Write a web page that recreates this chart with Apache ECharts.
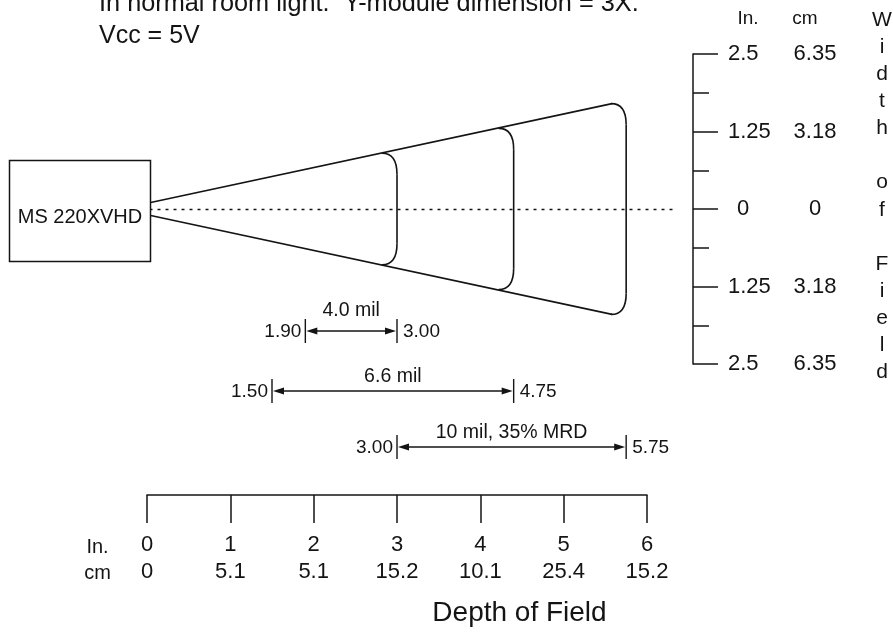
<!DOCTYPE html>
<html>
<head>
<meta charset="utf-8">
<script src="https://cdn.jsdelivr.net/npm/echarts@6/dist/echarts.min.js"></script>
<style>
html,body{margin:0;padding:0;background:#fff;}
#chart{width:893px;height:633px;}
</style>
</head>
<body>
<div id="chart"></div>
<script>
// ---- data ----
const depthTicksIn = ['0', '1', '2', '3', '4', '5', '6'];
const depthTicksCm = ['0', '5.1', '5.1', '15.2', '10.1', '25.4', '15.2'];
const widthTicksIn = ['2.5', '1.25', '0', '1.25', '2.5'];
const widthTicksCm = ['6.35', '3.18', '0', '3.18', '6.35'];
const coneApex = [0.03, 0.10];
const coneMouth = [5.58, 1.70];
const fieldArcDepth = [3.00, 4.40, 5.75];
const fieldArcHalf = [0.90, 1.30, 1.70];
const dofNames = ['4.0 mil', '6.6 mil', '10 mil, 35% MRD'];
const dofStart = [1.90, 1.50, 3.00];
const dofEnd = [3.00, 4.40, 5.75];
const dofStartLabel = ['1.90', '1.50', '3.00'];
const dofEndLabel = ['3.00', '4.75', '5.75'];
const centerLine = [0.03, 6.36];
const titleLines = ['In normal room light.  Y-module dimension = 3X.', 'Vcc = 5V'];
const scannerName = 'MS 220XVHD';
const yTitle = 'Width of Field';
const xTitle = 'Depth of Field';

// ---- layout / style ----
const FF = '"Liberation Sans", Arial, Helvetica, sans-serif';
const INK = '#141414';
const font = s => 'normal ' + s + 'px ' + FF;
const rowY = [331, 391, 447];
const rowTitleY = [311, 377, 433];

const chart = echarts.init(document.getElementById('chart'), null, {renderer: 'canvas'});

const option = {
  backgroundColor: '#ffffff',
  animation: false,
  textStyle: {fontFamily: FF, color: INK},
  grid: {left: 147, width: 500, top: 54, height: 310},
  xAxis: {
    type: 'value', min: 0, max: 6, interval: 1,
    position: 'bottom', offset: 131,
    axisLine: {show: true, onZero: false, lineStyle: {color: INK, width: 1.5}},
    axisTick: {show: true, inside: false, length: 28, lineStyle: {color: INK, width: 1.5}},
    splitLine: {show: false},
    axisLabel: {
      show: true, margin: 36, showMinLabel: true, showMaxLabel: true,
      formatter: function (v) {
        const i = Math.round(v);
        return '{a|' + depthTicksIn[i] + '}\n{b|' + depthTicksCm[i] + '}';
      },
      rich: {
        a: {fontSize: 22, lineHeight: 27, color: INK, fontFamily: FF},
        b: {fontSize: 22, lineHeight: 27, color: INK, fontFamily: FF}
      }
    }
  },
  yAxis: {
    type: 'value', min: -2.5, max: 2.5, interval: 1.25,
    position: 'right', offset: 46,
    axisLine: {show: true, onZero: false, lineStyle: {color: INK, width: 1.5}},
    axisTick: {show: true, inside: false, length: 25, lineStyle: {color: INK, width: 1.5}},
    minorTick: {show: true, splitNumber: 2, length: 16, lineStyle: {color: INK, width: 1.5}},
    splitLine: {show: false},
    minorSplitLine: {show: false},
    axisLabel: {
      show: true, margin: 35, showMinLabel: true, showMaxLabel: true,
      formatter: function (v) {
        const i = Math.round((2.5 - v) / 1.25);
        const a = widthTicksIn[i] === '0' ? '{z|' + widthTicksIn[i] + '}' : '{a|' + widthTicksIn[i] + '}';
        return a + '{b|' + widthTicksCm[i] + '}';
      },
      rich: {
        a: {fontSize: 22, width: 46, align: 'left', color: INK, fontFamily: FF},
        z: {fontSize: 22, width: 37, padding: [0, 0, 0, 9], align: 'left', color: INK, fontFamily: FF},
        b: {fontSize: 22, width: 82, align: 'center', color: INK, fontFamily: FF}
      }
    }
  },
  graphic: [
    {type: 'text', x: 99, y: 4.5, style: {text: titleLines[0], font: font(25.3), fill: INK, align: 'left', verticalAlign: 'middle'}},
    {type: 'text', x: 99, y: 36.5, style: {text: titleLines[1], font: font(25), fill: INK, align: 'left', verticalAlign: 'middle'}},
    {type: 'rect', shape: {x: 9.5, y: 160.5, width: 141, height: 101}, style: {fill: '#fff', stroke: INK, lineWidth: 1.5}, z: 10},
    {type: 'text', x: 80, y: 217, style: {text: scannerName, font: font(20), fill: INK, align: 'center', verticalAlign: 'middle'}, z: 11},
    {type: 'text', x: 748, y: 19, style: {text: 'In.', font: font(19), fill: INK, align: 'center', verticalAlign: 'middle'}},
    {type: 'text', x: 805, y: 19, style: {text: 'cm', font: font(19), fill: INK, align: 'center', verticalAlign: 'middle'}},
    {type: 'text', x: 882, y: 6.5, style: {
      text: yTitle.replace(/ /g, '\n').split('\n').map(w => w.split('').join('\n')).join('\n\n'),
      font: font(21), lineHeight: 27.1, fill: INK, align: 'center', verticalAlign: 'top'}},
    {type: 'text', x: 97.5, y: 547, style: {text: 'In.', font: font(20), fill: INK, align: 'center', verticalAlign: 'middle'}},
    {type: 'text', x: 97.5, y: 573, style: {text: 'cm', font: font(20), fill: INK, align: 'center', verticalAlign: 'middle'}},
    {type: 'text', x: 519.5, y: 613.5, style: {text: xTitle, font: font(28), fill: INK, align: 'center', verticalAlign: 'middle'}}
  ],
  series: [
    {
      type: 'line', name: 'cone top', symbol: 'none', clip: false, silent: true,
      data: [[coneApex[0], coneApex[1]], [coneMouth[0], coneMouth[1]]],
      lineStyle: {color: INK, width: 1.6}
    },
    {
      type: 'line', name: 'cone bottom', symbol: 'none', clip: false, silent: true,
      data: [[coneApex[0], -coneApex[1]], [coneMouth[0], -coneMouth[1]]],
      lineStyle: {color: INK, width: 1.6}
    },
    {
      type: 'custom', name: 'center', clip: false, silent: true,
      data: [[centerLine[0], centerLine[1]]],
      encode: {x: [0, 1]},
      renderItem: function (params, api) {
        const a = api.coord([api.value(0), 0]);
        const b = api.coord([api.value(1), 0]);
        return {type: 'line', shape: {x1: a[0], y1: Math.round(a[1]) + 0.5, x2: b[0], y2: Math.round(b[1]) + 0.5},
          style: {stroke: INK, lineWidth: 1.3, lineDash: [3, 5]}};
      }
    },
    {
      type: 'custom', name: 'field arcs', clip: false, silent: true,
      data: fieldArcDepth.map((d, i) => [d, fieldArcHalf[i]]),
      renderItem: function (params, api) {
        const d = api.value(0), h = api.value(1);
        const top = api.coord([d, h]);
        const bot = api.coord([d, -h]);
        const xr = top[0], xc = xr - 15, yt = top[1], yb = bot[1], r = 21;
        const st = {stroke: INK, lineWidth: 1.6, fill: 'none'};
        return {
          type: 'group',
          children: [
            {type: 'bezierCurve', shape: {x1: xc, y1: yt, cpx1: xr, cpy1: yt, x2: xr, y2: yt + r}, style: st},
            {type: 'line', shape: {x1: xr, y1: yt + r, x2: xr, y2: yb - r}, style: st},
            {type: 'bezierCurve', shape: {x1: xr, y1: yb - r, cpx1: xr, cpy1: yb, x2: xc, y2: yb}, style: st}
          ]
        };
      }
    },
    {
      type: 'custom', name: 'depth ranges', clip: false, silent: true,
      data: dofStart.map((s, i) => [s, dofEnd[i]]),
      encode: {x: [0, 1]},
      renderItem: function (params, api) {
        const i = params.dataIndex;
        const y = rowY[i];
        const xs = api.coord([api.value(0), 0])[0];
        const xe = api.coord([api.value(1), 0])[0];
        const st = {stroke: INK, lineWidth: 1.4, fill: 'none'};
        return {
          type: 'group',
          children: [
            {type: 'line', shape: {x1: xs, y1: y - 12, x2: xs, y2: y + 12}, style: st},
            {type: 'line', shape: {x1: xe, y1: y - 12, x2: xe, y2: y + 12}, style: st},
            {type: 'line', shape: {x1: xs + 4, y1: y, x2: xe - 4, y2: y}, style: st},
            {type: 'polygon', shape: {points: [[xs + 1, y], [xs + 12, y - 3.5], [xs + 12, y + 3.5]]}, style: {fill: INK}},
            {type: 'polygon', shape: {points: [[xe - 1, y], [xe - 12, y - 3.5], [xe - 12, y + 3.5]]}, style: {fill: INK}},
            {type: 'text', style: {text: dofStartLabel[i], x: xs - 4, y: y + 1, font: font(19), fill: INK, align: 'right', verticalAlign: 'middle'}},
            {type: 'text', style: {text: dofEndLabel[i], x: xe + 6, y: y + 1, font: font(19), fill: INK, align: 'left', verticalAlign: 'middle'}},
            {type: 'text', style: {text: dofNames[i], x: (xs + xe) / 2, y: rowTitleY[i], font: font(19.5), fill: INK, align: 'center', verticalAlign: 'middle'}}
          ]
        };
      }
    }
  ]
};
chart.setOption(option);
</script>
</body>
</html>
